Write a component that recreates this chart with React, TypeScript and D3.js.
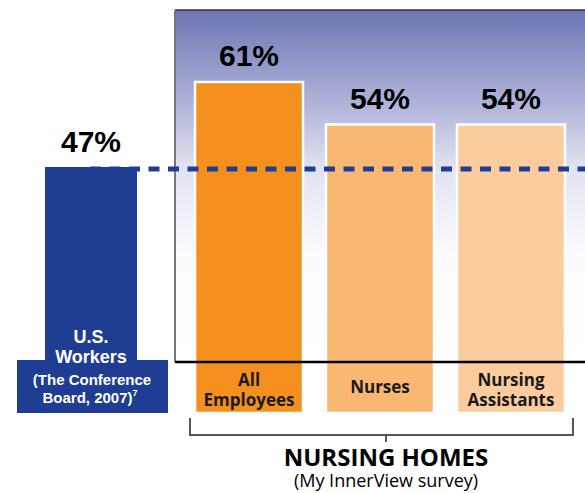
import React from "react";
import { scaleBand, scaleLinear } from "d3";

// chart values
const usCategory = "U.S. Workers";
const usValue = 47;
const nursingCats = ["All Employees", "Nurses", "Nursing Assistants"];
const nursingValues = [61, 54, 54];
const nursingColors = ["#f5901e", "#f9b871", "#fbcd9e"];
const nursingLabels = [["All", "Employees"], ["Nurses"], ["Nursing", "Assistants"]];

const W = 585;
const H = 493;
const panel = { left: 175, top: 10, bottom: 362 };
const baseY = 413;
const navy = "#1f3d93";

const App = () => {
  const x = scaleBand()
    .domain(nursingCats)
    .range([panel.left, W])
    .paddingInner(0.1756)
    .paddingOuter(0.153);

  const y = scaleLinear().domain([47, 61]).range([167, 82]);

  const usX = 45;
  const usW = 92;
  const usCx = usX + usW / 2;
  const valueFont = "'Liberation Sans', Arial, sans-serif";
  const labelFont = "'Open Sans', 'Noto Sans', sans-serif";

  return (
    <svg width={W} height={H} style={{ position: "absolute", left: 0, top: 0 }}>
      <defs>
        <linearGradient id="bg" x1="0" y1={panel.top} x2="0" y2={panel.bottom} gradientUnits="userSpaceOnUse">
          <stop offset="0" stopColor="#6d75b3" />
          <stop offset="0.27" stopColor="#b1b4da" />
          <stop offset="0.45" stopColor="#e2e3f1" />
          <stop offset="0.7" stopColor="#fcfcfe" />
          <stop offset="1" stopColor="#ffffff" />
        </linearGradient>
      </defs>
      <rect x={0} y={0} width={W} height={H} fill="#fff" />

      {/* nursing homes panel */}
      <rect x={panel.left} y={panel.top} width={W - panel.left} height={panel.bottom - panel.top} fill="url(#bg)" />
      <line x1={panel.left} x2={W} y1={panel.top} y2={panel.top} stroke="#333" strokeWidth={1.5} />
      <line x1={panel.left} x2={panel.left} y1={panel.top} y2={panel.bottom} stroke="#777" strokeWidth={2} />

      {/* US workers bar */}
      <rect x={usX} y={y(usValue)} width={usW} height={baseY - y(usValue)} fill={navy} />
      <rect x={17} y={360} width={151} height={baseY - 360} fill={navy} />
      <text x={usCx} y={y(usValue) - 15} textAnchor="middle" fontFamily={valueFont} fontWeight="bold" fontSize={30} fill="#000">
        {usValue}%
      </text>
      <g fill="#fff" fontFamily={valueFont} fontWeight="bold" textAnchor="middle">
        <text x={usCx} y={343} fontSize={18}>U.S.</text>
        <text x={usCx} y={363} fontSize={18}>Workers</text>
        <text x={92} y={385} fontSize={15}>(The Conference</text>
        <text x={90} y={403} fontSize={15}>
          Board, 2007)<tspan fontSize={9} dy={-7}>7</tspan>
        </text>
      </g>

      {/* nursing bars */}
      {nursingCats.map((c, i) => {
        const v = nursingValues[i];
        const bx = x(c) as number;
        const cx = bx + x.bandwidth() / 2;
        const lines = nursingLabels[i];
        const baseLine = lines.length === 1 ? 393 : 386;
        return (
          <g key={c}>
            <rect
              x={bx}
              y={y(v)}
              width={x.bandwidth()}
              height={baseY - y(v)}
              fill={nursingColors[i]}
              stroke="#fff"
              strokeWidth={2.5}
            />
            <text x={cx} y={y(v) - 16} textAnchor="middle" fontFamily={valueFont} fontWeight="bold" fontSize={30} fill="#000">
              {v}%
            </text>
            {lines.map((l, j) => (
              <text key={l} x={cx} y={baseLine + j * 20} textAnchor="middle" fontFamily={labelFont} fontWeight="bold" fontSize={17} fill="#1a1a1a">
                {l}
              </text>
            ))}
          </g>
        );
      })}

      {/* US average reference */}
      <line x1={90} x2={W} y1={y(usValue) + 2} y2={y(usValue) + 2} stroke={navy} strokeWidth={5} strokeDasharray="11 8.5" />

      {/* baseline */}
      <line x1={panel.left} x2={W} y1={panel.bottom} y2={panel.bottom} stroke="#000" strokeWidth={2.5} />

      {/* bracket */}
      <path d="M190,418 V435 H573 V418 M386,435 V442" fill="none" stroke="#555" strokeWidth={2} />
      <text x={386} y={466} textAnchor="middle" fontFamily={labelFont} fontWeight="bold" fontSize={24} fill="#000">
        NURSING HOMES
      </text>
      <text x={386} y={487} textAnchor="middle" fontFamily={labelFont} fontSize={18} fill="#000">
        (My InnerView survey)
      </text>
    </svg>
  );
};

export default App;
